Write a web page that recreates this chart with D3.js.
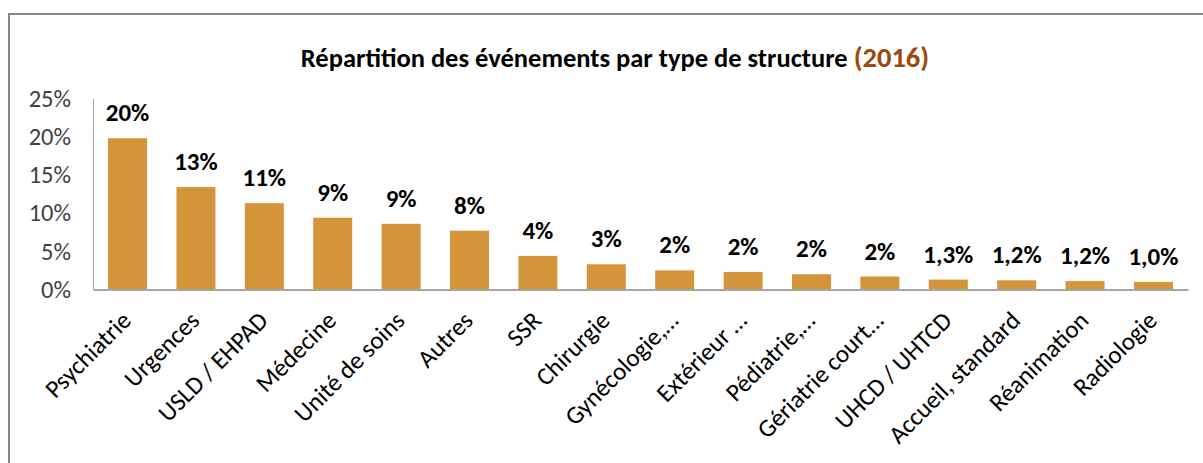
<!DOCTYPE html>
<html lang="fr">
<head>
    <meta charset="UTF-8">
    <title>Répartition des événements par type de structure</title>
    <script src="https://d3js.org/d3.v7.min.js"></script>
    <style>
        body { margin: 0; background: #fff; }
        text { font-family: Carlito, Lato, "Liberation Sans", sans-serif; }
    </style>
</head>
<body>
    <svg id="chart" width="1203" height="463"></svg>

    <script>
        // Données (en %)
        const categories = ["Psychiatrie", "Urgences", "USLD / EHPAD", "Médecine", "Unité de soins",
            "Autres", "SSR", "Chirurgie", "Gynécologie,…", "Extérieur …", "Pédiatrie,…",
            "Gériatrie court…", "UHCD / UHTCD", "Accueil, standard", "Réanimation", "Radiologie"];
        const values = [19.8, 13.4, 11.3, 9.4, 8.6, 7.7, 4.4, 3.3, 2.5, 2.3, 2.0, 1.7, 1.3, 1.2, 1.1, 1.0];
        const valueLabels = ["20%", "13%", "11%", "9%", "9%", "8%", "4%", "3%", "2%", "2%", "2%", "2%",
            "1,3%", "1,2%", "1,2%", "1,0%"];
        const yTicks = [0, 5, 10, 15, 20, 25];

        const svg = d3.select("#chart");

        // cadre
        svg.append("path")
            .attr("d", "M9,463 V14 H1203")
            .attr("fill", "none")
            .attr("stroke", "#878787")
            .attr("stroke-width", 2);

        // titre
        const title = svg.append("text")
            .attr("x", 615)
            .attr("y", 67)
            .attr("text-anchor", "middle")
            .attr("font-weight", "bold")
            .attr("font-size", 26.5)
            .attr("fill", "#000");
        title.append("tspan").text("Répartition des événements par type de structure ");
        title.append("tspan").attr("fill", "#9c4a0c").attr("font-size", 28.5).text("(2016)");

        const x = d3.scaleBand()
            .domain(categories)
            .range([93, 1188])
            .paddingInner(0.43)
            .paddingOuter(0.22);

        const y = d3.scaleLinear()
            .domain([0, 25])
            .range([289.5, 98.5]);

        // axe Y
        const yAxis = svg.append("g")
            .attr("transform", "translate(93,0)")
            .call(d3.axisLeft(y).tickValues(yTicks).tickSize(0).tickPadding(22).tickFormat(d => d + "%"));
        yAxis.select(".domain").attr("stroke", "#a6a6a6").attr("stroke-width", 1);
        yAxis.selectAll("text")
            .attr("font-size", 24.5)
            .attr("fill", "#404040")
            .attr("font-family", null);

        // barres
        svg.selectAll("rect.bar")
            .data(values)
            .enter()
            .append("rect")
            .attr("class", "bar")
            .attr("x", (d, i) => x(categories[i]))
            .attr("y", d => y(d))
            .attr("width", x.bandwidth())
            .attr("height", d => y(0) - y(d))
            .attr("fill", "#d3943a");

        // étiquettes de valeurs
        svg.selectAll("text.val")
            .data(values)
            .enter()
            .append("text")
            .attr("class", "val")
            .attr("x", (d, i) => x(categories[i]) + x.bandwidth() / 2)
            .attr("y", d => y(d) - 17)
            .attr("text-anchor", "middle")
            .attr("font-weight", "bold")
            .attr("font-size", 25)
            .attr("fill", "#000")
            .text((d, i) => valueLabels[i]);

        // axe X
        const xAxis = svg.append("g")
            .attr("transform", "translate(0,289.5)")
            .call(d3.axisBottom(x).tickSize(0).tickSizeOuter(0).tickFormat(""));
        xAxis.select(".domain").attr("stroke", "#a6a6a6").attr("stroke-width", 2);

        // libellés des catégories, tournés à -45°
        svg.selectAll("text.cat")
            .data(categories)
            .enter()
            .append("text")
            .attr("class", "cat")
            .attr("text-anchor", "end")
            .attr("font-size", 25)
            .attr("fill", "#000")
            .attr("transform", d => `translate(${x(d) + x.bandwidth() / 2 + 5},${322}) rotate(-45)`)
            .text(d => d);
    </script>
</body>
</html>
